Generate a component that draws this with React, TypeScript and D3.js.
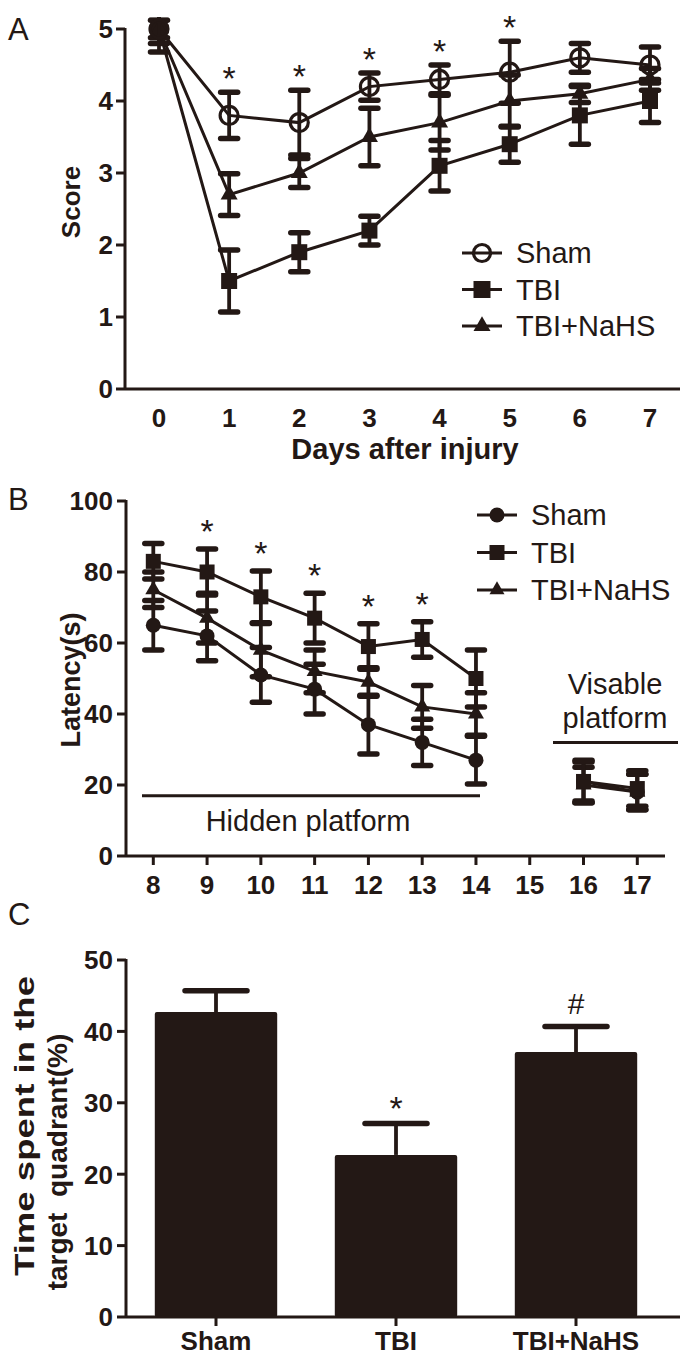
import React from 'react';
import * as d3 from 'd3';

const INK = '#231815';
const FONT = '"Liberation Sans", Arial, Helvetica, sans-serif';

// ---------- Panel A data ----------
const daysA = [0, 1, 2, 3, 4, 5, 6, 7];
const yTicksA = [0, 1, 2, 3, 4, 5];
const shamA = [5.0, 3.8, 3.7, 4.2, 4.3, 4.4, 4.6, 4.5];
const shamAErr = [0.12, 0.32, 0.45, 0.19, 0.2, 0.43, 0.2, 0.25];
const tbiA = [5.0, 1.5, 1.9, 2.2, 3.1, 3.4, 3.8, 4.0];
const tbiAErr = [0.32, 0.43, 0.27, 0.2, 0.35, 0.25, 0.4, 0.3];
const nahsA = [5.0, 2.7, 3.0, 3.5, 3.7, 4.0, 4.1, 4.3];
const nahsAErr = [0.2, 0.29, 0.2, 0.4, 0.38, 0.36, 0.12, 0.15];
const starDaysA = [1, 2, 3, 4, 5];

// ---------- Panel B data ----------
const xTicksB = [8, 9, 10, 11, 12, 13, 14, 15, 16, 17];
const yTicksB = [0, 20, 40, 60, 80, 100];
const hiddenDays = [8, 9, 10, 11, 12, 13, 14];
const visibleDays = [16, 17];
const shamBHidden = [65, 62, 51, 47, 37, 32, 27];
const shamBHiddenErr = [7, 7, 7.7, 7, 8.3, 6.5, 6.7];
const tbiBHidden = [83, 80, 73, 67, 59, 61, 50];
const tbiBHiddenErr = [5, 6.5, 7.3, 7, 6.4, 5, 8];
const nahsBHidden = [75, 67, 58, 52, 49, 42, 40];
const nahsBHiddenErr = [5, 7, 7.5, 6, 4, 6, 6];
const shamBVisible = [21, 18];
const shamBVisibleErr = [5.5, 5];
const tbiBVisible = [21, 19];
const tbiBVisibleErr = [6, 5];
const nahsBVisible = [20, 18];
const nahsBVisibleErr = [5, 5];
const starDaysB = [9, 10, 11, 12, 13];

// ---------- Panel C data ----------
const groupsC = ['Sham', 'TBI', 'TBI+NaHS'];
const meansC = [42.7, 22.7, 37.1];
const errC = [3.0, 4.4, 3.6];
const marksC = ['', '*', '#'];
const yTicksC = [0, 10, 20, 30, 40, 50];

const legendLabels = ['Sham', 'TBI', 'TBI+NaHS'];

type Kind = 'open' | 'circle' | 'square' | 'triangle';

function Marker({ kind, x, y, s }: { kind: Kind; x: number; y: number; s: number }) {
  if (kind === 'open') return <circle cx={x} cy={y} r={s / 2} fill="none" stroke={INK} strokeWidth={3.2} />;
  if (kind === 'circle') return <circle cx={x} cy={y} r={s / 2} fill={INK} />;
  if (kind === 'square') return <rect x={x - s / 2} y={y - s / 2} width={s} height={s} fill={INK} />;
  const h = s * 0.866;
  return (
    <polygon
      points={`${x},${y - (2 * h) / 3} ${x - s / 2},${y + h / 3} ${x + s / 2},${y + h / 3}`}
      fill={INK}
    />
  );
}

function ErrBar({ x, y1, y2, cap }: { x: number; y1: number; y2: number; cap: number }) {
  return (
    <g stroke={INK} strokeLinecap="round">
      <line x1={x} x2={x} y1={y1} y2={y2} strokeWidth={3.8} />
      <line x1={x - cap / 2} x2={x + cap / 2} y1={y1} y2={y1} strokeWidth={5.5} />
      <line x1={x - cap / 2} x2={x + cap / 2} y1={y2} y2={y2} strokeWidth={5.5} />
    </g>
  );
}

function Series({
  xs, ys, errs, xScale, yScale, kind, s,
}: {
  xs: number[]; ys: number[]; errs: number[];
  xScale: (v: number) => number; yScale: (v: number) => number; kind: Kind; s: number;
}) {
  const line = d3.line<number>().x((_, i) => xScale(xs[i])).y((d) => yScale(d));
  return (
    <g>
      <path d={line(ys) || ''} fill="none" stroke={INK} strokeWidth={3} />
      {ys.map((v, i) => (
        <ErrBar key={'e' + i} x={xScale(xs[i])} y1={yScale(v + errs[i])} y2={yScale(v - errs[i])} cap={17} />
      ))}
      {ys.map((v, i) => (
        <Marker key={'m' + i} kind={kind} x={xScale(xs[i])} y={yScale(v)} s={s} />
      ))}
    </g>
  );
}

function Legend({ x, y, gap, kinds, s }: { x: number; y: number; gap: number; kinds: Kind[]; s: number }) {
  return (
    <g>
      {legendLabels.map((lab, i) => (
        <g key={lab}>
          <line x1={x} x2={x + 40} y1={y + i * gap} y2={y + i * gap} stroke={INK} strokeWidth={3} />
          <Marker kind={kinds[i]} x={x + 20} y={y + i * gap} s={s} />
          <text x={x + 54} y={y + i * gap} dy="0.36em" fontSize={29} fill={INK} fontFamily={FONT}>
            {lab}
          </text>
        </g>
      ))}
    </g>
  );
}

export default function App() {
  // Panel A scales
  const xA = d3.scaleLinear().domain([0, 7]).range([159, 650]);
  const yA = d3.scaleLinear().domain([0, 5]).range([389, 29]);
  // Panel B scales
  const xB = d3.scaleLinear().domain([8, 17]).range([153.3, 637.3]);
  const yB = d3.scaleLinear().domain([0, 100]).range([856, 501]);
  // Panel C scales
  const xC = d3.scaleBand<string>().domain(groupsC).range([126, 666]).paddingInner(0.32).paddingOuter(0.16);
  const yC = d3.scaleLinear().domain([0, 50]).range([1317, 960]);

  const tickFont = { fontFamily: FONT, fontWeight: 700, fontSize: 26, fill: INK } as const;
  const starSize = 34;

  return (
    <svg
      width={695}
      height={1361}
      viewBox="0 0 695 1361"
      style={{ position: 'absolute', left: 0, top: 0, background: '#fff' }}
    >
      <defs>
        <clipPath id="clipA">
          <rect x={126} y={17} width={560} height={380} />
        </clipPath>
      </defs>
      <rect width={695} height={1361} fill="#fff" />
      {/* ================= Panel A ================= */}
      <text x={8} y={40} fontSize={31} fill={INK} fontFamily={FONT}>A</text>
      <g stroke={INK} strokeWidth={3}>
        <line x1={125} x2={125} y1={yA(5) - 1} y2={yA(0)} />
        <line x1={125} x2={680} y1={yA(0)} y2={yA(0)} />
        {yTicksA.map((t) => (
          <line key={t} x1={116} x2={125} y1={yA(t)} y2={yA(t)} />
        ))}
      </g>
      {yTicksA.map((t) => (
        <text key={t} x={113} y={yA(t)} dy="0.36em" textAnchor="end" {...tickFont}>{t}</text>
      ))}
      {daysA.map((d) => (
        <text key={d} x={xA(d)} y={418} dy="0.36em" textAnchor="middle" {...tickFont}>{d}</text>
      ))}
      <text x={405} y={449} dy="0.36em" textAnchor="middle" {...tickFont} fontSize={29}>Days after injury</text>
      <text transform={`translate(80,202) rotate(-90)`} textAnchor="middle" {...tickFont} fontSize={26}>Score</text>

      <g clipPath="url(#clipA)">
        <Series xs={daysA} ys={tbiA} errs={tbiAErr} xScale={xA} yScale={yA} kind="square" s={16} />
        <Series xs={daysA} ys={nahsA} errs={nahsAErr} xScale={xA} yScale={yA} kind="triangle" s={17} />
        <Series xs={daysA} ys={shamA} errs={shamAErr} xScale={xA} yScale={yA} kind="open" s={18} />
      </g>
      {starDaysA.map((d) => {
        const i = daysA.indexOf(d);
        return (
          <text key={d} x={xA(d)} y={yA(shamA[i] + shamAErr[i]) - 21 + 19} textAnchor="middle" fontSize={starSize} fill={INK} fontFamily={FONT}>*</text>
        );
      })}
      <Legend x={462} y={253} gap={36.5} kinds={['open', 'square', 'triangle']} s={17} />

      {/* ================= Panel B ================= */}
      <text x={8} y={510} fontSize={31} fill={INK} fontFamily={FONT}>B</text>
      <g stroke={INK} strokeWidth={3}>
        <line x1={126} x2={126} y1={yB(100) - 1} y2={yB(0)} />
        <line x1={126} x2={665} y1={yB(0)} y2={yB(0)} />
        {yTicksB.map((t) => (
          <line key={t} x1={117} x2={126} y1={yB(t)} y2={yB(t)} />
        ))}
        {xTicksB.map((t) => (
          <line key={t} x1={xB(t)} x2={xB(t)} y1={yB(0)} y2={yB(0) + 9} />
        ))}
      </g>
      {yTicksB.map((t) => (
        <text key={t} x={113} y={yB(t)} dy="0.36em" textAnchor="end" {...tickFont}>{t}</text>
      ))}
      {xTicksB.map((t) => (
        <text key={t} x={xB(t)} y={885} dy="0.36em" textAnchor="middle" {...tickFont}>{t}</text>
      ))}
      <text transform={`translate(80,680) rotate(-90)`} textAnchor="middle" {...tickFont} fontSize={27}>Latency(s)</text>

      <Series xs={hiddenDays} ys={nahsBHidden} errs={nahsBHiddenErr} xScale={xB} yScale={yB} kind="triangle" s={16} />
      <Series xs={hiddenDays} ys={shamBHidden} errs={shamBHiddenErr} xScale={xB} yScale={yB} kind="circle" s={15} />
      <Series xs={hiddenDays} ys={tbiBHidden} errs={tbiBHiddenErr} xScale={xB} yScale={yB} kind="square" s={15} />
      <Series xs={visibleDays} ys={nahsBVisible} errs={nahsBVisibleErr} xScale={xB} yScale={yB} kind="triangle" s={16} />
      <Series xs={visibleDays} ys={shamBVisible} errs={shamBVisibleErr} xScale={xB} yScale={yB} kind="circle" s={15} />
      <Series xs={visibleDays} ys={tbiBVisible} errs={tbiBVisibleErr} xScale={xB} yScale={yB} kind="square" s={15} />
      {starDaysB.map((d) => {
        const i = hiddenDays.indexOf(d);
        return (
          <text key={d} x={xB(d)} y={yB(tbiBHidden[i] + tbiBHiddenErr[i]) - 25 + 19} textAnchor="middle" fontSize={starSize} fill={INK} fontFamily={FONT}>*</text>
        );
      })}
      <line x1={142} x2={480} y1={yB(17)} y2={yB(17)} stroke={INK} strokeWidth={3} />
      <text x={308} y={yB(17) + 25} dy="0.36em" textAnchor="middle" fontSize={29} fill={INK} fontFamily={FONT}>Hidden platform</text>
      <line x1={553} x2={678} y1={yB(32)} y2={yB(32)} stroke={INK} strokeWidth={3} />
      <text x={615} y={684} dy="0.36em" textAnchor="middle" fontSize={29} fill={INK} fontFamily={FONT}>Visable</text>
      <text x={615} y={718} dy="0.36em" textAnchor="middle" fontSize={29} fill={INK} fontFamily={FONT}>platform</text>
      <Legend x={477} y={515} gap={37.5} kinds={['circle', 'square', 'triangle']} s={15} />

      {/* ================= Panel C ================= */}
      <text x={8} y={925} fontSize={31} fill={INK} fontFamily={FONT}>C</text>
      {groupsC.map((g, i) => {
        const x0 = xC(g) as number;
        const cx = x0 + xC.bandwidth() / 2;
        const top = yC(meansC[i]);
        const capY = yC(meansC[i] + errC[i]);
        return (
          <g key={g}>
            <line x1={cx} x2={cx} y1={top} y2={capY} stroke={INK} strokeWidth={3.8} />
            <line x1={cx - 31} x2={cx + 31} y1={capY} y2={capY} stroke={INK} strokeWidth={5.5} strokeLinecap="round" />
            <rect x={x0} y={top} width={xC.bandwidth()} height={yC(0) - top} rx={2} fill={INK} />
            {marksC[i] && (
              <text x={cx} y={capY - 23 + (marksC[i] === '*' ? 19 : 11)} textAnchor="middle" fontSize={marksC[i] === '*' ? starSize : 30} fill={INK} fontFamily={FONT}>
                {marksC[i]}
              </text>
            )}
          </g>
        );
      })}
      <g stroke={INK} strokeWidth={3}>
        <line x1={126} x2={126} y1={yC(50) - 1} y2={yC(0)} />
        <line x1={126} x2={680} y1={yC(0)} y2={yC(0)} />
        {yTicksC.map((t) => (
          <line key={t} x1={117} x2={126} y1={yC(t)} y2={yC(t)} />
        ))}
        {groupsC.map((g) => (
          <line key={g} x1={(xC(g) as number) + xC.bandwidth() / 2} x2={(xC(g) as number) + xC.bandwidth() / 2} y1={yC(0)} y2={yC(0) + 9} />
        ))}
      </g>
      {yTicksC.map((t) => (
        <text key={t} x={113} y={yC(t)} dy="0.36em" textAnchor="end" {...tickFont}>{t}</text>
      ))}
      {groupsC.map((g) => (
        <text key={g} x={(xC(g) as number) + xC.bandwidth() / 2} y={1341} dy="0.36em" textAnchor="middle" {...tickFont}>{g}</text>
      ))}
      <text transform={`translate(34,1126) rotate(-90)`} textAnchor="middle" {...tickFont} fontSize={28} textLength={300} lengthAdjust="spacingAndGlyphs">Time spent in the</text>
      <text transform={`translate(67,1162) rotate(-90)`} textAnchor="middle" {...tickFont} fontSize={28} style={{ whiteSpace: 'pre' }}>target  quadrant(%)</text>
    </svg>
  );
}
